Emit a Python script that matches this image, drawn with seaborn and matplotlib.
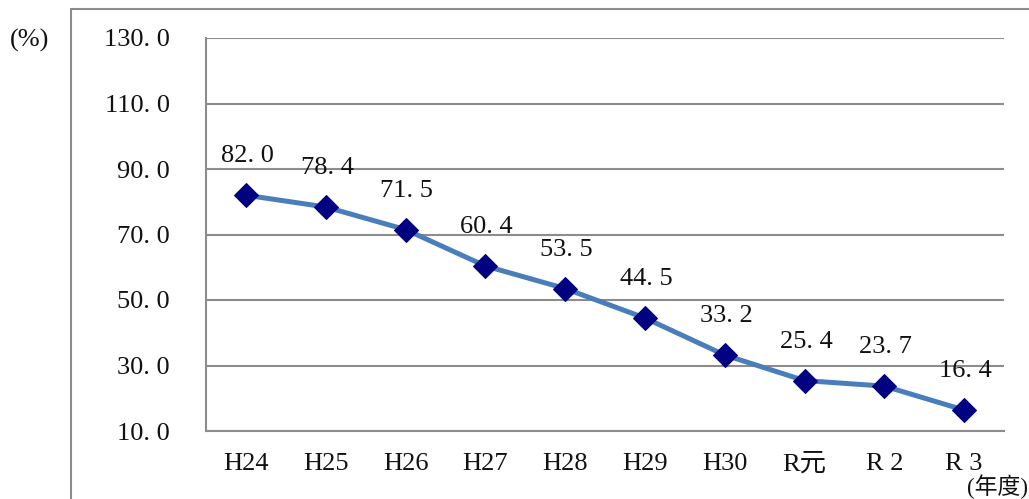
import pandas as pd
import matplotlib.pyplot as plt
import seaborn as sns
from matplotlib.lines import Line2D
from matplotlib.ticker import FixedLocator

# 年度ごとの割合
years = ['H24', 'H25', 'H26', 'H27', 'H28', 'H29', 'H30', 'R元', 'R 2', 'R 3']
rates = [82.0, 78.4, 71.5, 60.4, 53.5, 44.5, 33.2, 25.4, 23.7, 16.4]
y_ticks = [10, 30, 50, 70, 90, 110, 130]

df = pd.DataFrame({'年度': years, '割合': rates})

sns.set_style('white')
fonts = ['Liberation Serif', 'Noto Sans CJK JP', 'DejaVu Sans']
plt.rcParams['font.family'] = fonts

gray = '#8c8c8c'
txt = '#111111'
fs = 19


def fmt(v):
    # 小数点のあとに少し間隔
    return f'{v:.1f}'.replace('.', '. ')


fig = plt.figure(figsize=(10.29, 4.99), dpi=100)
ax = fig.add_axes([206 / 1029, 1 - 431 / 499, (1004 - 206) / 1029, (431 - 38) / 499])

sns.lineplot(data=df, x='年度', y='割合', sort=False, ax=ax,
             color='#4a7ebb', linewidth=3.6, marker='D', markersize=12,
             markerfacecolor='#000080', markeredgecolor='#000080', zorder=3)

# データラベル
for i, v in enumerate(rates):
    ax.annotate(fmt(v), (i, v), xytext=(1, 28),
                textcoords='offset points', ha='center', va='center',
                fontsize=fs, color=txt)

ax.set_xlim(-0.5, len(years) - 0.5)
ax.set_ylim(10, 130)
ax.set_yticks(y_ticks)
ax.set_yticklabels([fmt(t) for t in y_ticks], fontsize=fs)
ax.yaxis.grid(True, color=gray, linewidth=1.5)
ax.set_axisbelow(True)
ax.tick_params(axis='y', length=0, pad=26, labelcolor=txt)
ax.tick_params(axis='x', which='major', length=0, pad=16, labelsize=fs,
               labelcolor=txt)
ax.xaxis.set_minor_locator(FixedLocator([i + 0.5 for i in range(len(years))]))
ax.tick_params(axis='x', which='minor', direction='in', length=6,
               width=1.5, color=gray)
ax.set_xlabel('')
ax.set_ylabel('')

for s in ['top', 'right']:
    ax.spines[s].set_visible(False)
for s in ['left', 'bottom']:
    ax.spines[s].set_color(gray)
    ax.spines[s].set_linewidth(1.5)

# 外枠
fig.add_artist(Line2D([71 / 1029, 71 / 1029], [0, 1 - 9 / 499],
                      transform=fig.transFigure, color=gray, linewidth=1.5))
fig.add_artist(Line2D([71 / 1029, 1], [1 - 9 / 499, 1 - 9 / 499],
                      transform=fig.transFigure, color=gray, linewidth=1.5))

fig.text(10 / 1029, 1 - 40 / 499, '(%)', fontsize=fs, va='center', ha='left',
         color=txt)
fig.text(1028 / 1029, 1 - 487 / 499, '(年度)', fontsize=16.5, va='center',
         ha='right', color=txt)

plt.savefig('out.png', dpi=100)
